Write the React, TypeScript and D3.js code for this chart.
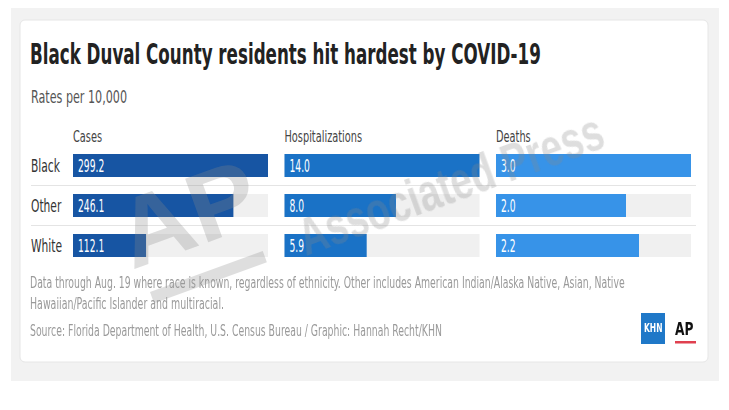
import React, { useLayoutEffect, useRef, useState } from "react";
import * as d3 from "d3";

const races = ["Black", "Other", "White"];
const metrics = ["Cases", "Hospitalizations", "Deaths"];
const cases = [299.2, 246.1, 112.1];
const hospitalizations = [14.0, 8.0, 5.9];
const deaths = [3.0, 2.0, 2.2];
const seriesValues = [cases, hospitalizations, deaths];
const barColors = ["#1755a3", "#1a72c6", "#3793e8"];

const titleText = "Black Duval County residents hit hardest by COVID-19";
const subtitleText = "Rates per 10,000";
const noteLine1 =
  "Data through Aug. 19 where race is known, regardless of ethnicity. Other includes American Indian/Alaska Native, Asian, Native";
const noteLine2 = "Hawaiian/Pacific Islander and multiracial.";
const sourceText =
  "Source: Florida Department of Health, U.S. Census Bureau / Graphic: Hannah Recht/KHN";

const W = 729;
const H = 410;
const FONT = "'DejaVu Sans Condensed', 'Liberation Sans Narrow', 'Roboto', sans-serif";
const fmt = d3.format(".1f");

// Text narrowed horizontally by a fixed factor (condensed look)
function CText(props: {
  x: number;
  y: number;
  sx: number;
  size: number;
  fill: string;
  weight?: number;
  children: React.ReactNode;
}) {
  const { x, y, sx, size, fill, weight, children } = props;
  return (
    <text
      transform={`translate(${x},${y}) scale(${sx},1)`}
      fontSize={size}
      fill={fill}
      fontWeight={weight ?? 400}
    >
      {children}
    </text>
  );
}

// Text narrowed to fit a target width (measured)
function FitText(props: {
  x: number;
  y: number;
  width: number;
  size: number;
  fill: string;
  weight?: number;
  children: React.ReactNode;
}) {
  const { x, y, width, size, fill, weight, children } = props;
  const ref = useRef<SVGTextElement>(null);
  const [s, setS] = useState(0.7);
  useLayoutEffect(() => {
    if (ref.current) {
      const w = ref.current.getComputedTextLength();
      if (w > 0) setS(width / w);
    }
  }, [width, children]);
  return (
    <text
      ref={ref}
      transform={`translate(${x},${y}) scale(${s},1)`}
      fontSize={size}
      fill={fill}
      fontWeight={weight ?? 400}
    >
      {children}
    </text>
  );
}

export default function App() {
  const xCol = d3.scaleBand<string>().domain(metrics).range([73, 691]).paddingInner(0.078);
  const yRow = d3.scaleBand<string>().domain(races).range([154, 257]).paddingInner(0.425);
  const bw = xCol.bandwidth();
  const bh = yRow.bandwidth();
  const step = yRow.step();

  return (
    <svg
      width={W}
      height={H}
      style={{ position: "absolute", left: 0, top: 0, background: "#ffffff" }}
      fontFamily={FONT}
    >
      <rect x={11} y={8} width={708} height={373} fill="#f2f2f2" />
      <rect x={20} y={20} width={688} height={342} rx={5} fill="#ffffff" stroke="#e6e6e6" />

      <FitText x={30} y={64} width={511} size={28} weight={700} fill="#222">
        {titleText}
      </FitText>
      <FitText x={31} y={103} width={96} size={17} fill="#555">
        {subtitleText}
      </FitText>

      {metrics.map((m) => (
        <CText key={m} x={xCol(m) as number} y={142} sx={0.68} size={16} fill="#444">
          {m}
        </CText>
      ))}

      {races.slice(1).map((r) => (
        <line
          key={"sep" + r}
          x1={31}
          x2={696}
          y1={(yRow(r) as number) - (step - bh) / 2}
          y2={(yRow(r) as number) - (step - bh) / 2}
          stroke="#e4e4e4"
          strokeWidth={1}
        />
      ))}

      {races.map((r) => (
        <CText key={r} x={31} y={(yRow(r) as number) + bh / 2 + 6.5} sx={0.66} size={18} fill="#333">
          {r}
        </CText>
      ))}

      {metrics.map((m, mi) => {
        const vals = seriesValues[mi];
        const xs = d3.scaleLinear().domain([0, d3.max(vals) as number]).range([0, bw]);
        return (
          <g key={m}>
            {races.map((r, ri) => (
              <g key={r}>
                <rect x={xCol(m)} y={yRow(r)} width={bw} height={bh} fill="#f0f0f0" />
                <rect x={xCol(m)} y={yRow(r)} width={xs(vals[ri])} height={bh} fill={barColors[mi]} />
                <CText
                  x={(xCol(m) as number) + 5}
                  y={(yRow(r) as number) + bh / 2 + 6.5}
                  sx={0.6}
                  size={17}
                  fill="#ffffff"
                >
                  {fmt(vals[ri])}
                </CText>
              </g>
            ))}
          </g>
        );
      })}

      {/* watermark */}
      <g fill="#8a8a8a" opacity={0.28} fontFamily="'Liberation Sans', sans-serif" fontWeight={700}>
        <text transform="translate(132,270) rotate(-20) scale(1.05,1)" fontSize={98}>
          AP
        </text>
        <rect x={150} y={292} width={120} height={12} transform="rotate(-20 150 292)" />
        <text transform="translate(306,256) rotate(-20) scale(0.74,1)" fontSize={52}>
          Associated Press
        </text>
      </g>

      <FitText x={30} y={288} width={595} size={15} fill="#9a9a9a">
        {noteLine1}
      </FitText>
      <FitText x={30} y={309} width={194} size={15} fill="#9a9a9a">
        {noteLine2}
      </FitText>
      <FitText x={30} y={336} width={412} size={15} fill="#9a9a9a">
        {sourceText}
      </FitText>

      {/* logos */}
      <rect x={641} y={313} width={24} height={31} fill="#1f78c8" />
      <CText x={644} y={332} sx={0.7} size={12} weight={700} fill="#ffffff">
        KHN
      </CText>
      <CText x={675} y={335} sx={0.8} size={17} weight={700} fill="#111">
        AP
      </CText>
      <rect x={675} y={341} width={21} height={2.5} fill="#e0404f" />
    </svg>
  );
}
